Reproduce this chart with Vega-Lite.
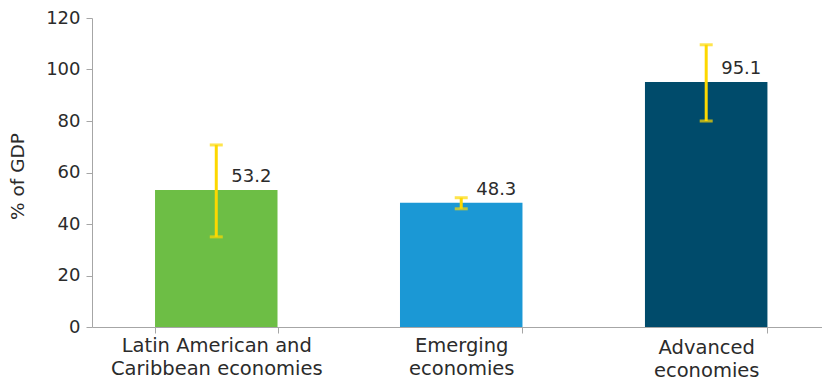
{
  "$schema": "https://vega.github.io/schema/vega-lite/v6.json",
  "width": 730,
  "height": 309,
  "autosize": {"type": "none"},
  "padding": {"left": 92, "top": 18, "right": 0, "bottom": 54},
  "background": "white",
  "config": {
    "view": {"stroke": null},
    "font": "DejaVu Sans",
    "axis": {"domainColor": "#a6a6a6", "tickColor": "#a6a6a6", "labelColor": "#2b2b2b", "titleColor": "#2b2b2b", "labelFont": "DejaVu Sans", "titleFont": "DejaVu Sans", "grid": false}
  },
  "data": {
    "values": [
      {"region": "Latin American and|Caribbean economies", "value": 53.2, "lo": 35.0, "hi": 70.7, "color": "#6dbe45"},
      {"region": "Emerging|economies", "value": 48.3, "lo": 45.9, "hi": 50.2, "color": "#1b98d5"},
      {"region": "Advanced|economies", "value": 95.1, "lo": 80.0, "hi": 109.6, "color": "#004b6b"}
    ]
  },
  "encoding": {
    "x": {
      "field": "region",
      "type": "nominal",
      "sort": null,
      "scale": {"paddingInner": 0.5, "paddingOuter": 0.24, "align": 0.536},
      "axis": {
        "title": null,
        "labelAngle": 0,
        "labelExpr": "split(datum.label, '|')",
        "labelFontSize": 19.5,
        "labelLineHeight": 23,
        "labelPadding": {"condition": {"test": "datum.value == 'Advanced|economies'", "value": 5}, "value": 3},
        "tickBand": "extent",
        "tickSize": 6,
        "labelLimit": 300
      }
    }
  },
  "layer": [
    {
      "mark": {"type": "bar"},
      "encoding": {
        "y": {
          "field": "value",
          "type": "quantitative",
          "scale": {"domain": [0, 120]},
          "axis": {
            "title": "% of GDP",
            "values": [0, 20, 40, 60, 80, 100, 120],
            "labelFontSize": 18,
            "labelPadding": 6,
            "tickSize": 6,
            "titleFontSize": 18.5,
            "titleFontWeight": "normal",
            "titleX": -75,
            "titleY": 158,
            "titleAngle": -90,
            "titleAlign": "center",
            "titleBaseline": "middle"
          }
        },
        "color": {"field": "color", "type": "nominal", "scale": null}
      }
    },
    {
      "mark": {"type": "rule", "color": "#fdd800", "strokeWidth": 3},
      "encoding": {
        "y": {"field": "lo", "type": "quantitative"},
        "y2": {"field": "hi"}
      }
    },
    {
      "mark": {"type": "tick", "color": "#fdd800", "thickness": 3, "size": 13},
      "encoding": {"y": {"field": "lo", "type": "quantitative"}}
    },
    {
      "mark": {"type": "tick", "color": "#fdd800", "thickness": 3, "size": 13},
      "encoding": {"y": {"field": "hi", "type": "quantitative"}}
    },
    {
      "mark": {"type": "text", "align": "left", "baseline": "alphabetic", "dx": 15, "dy": -8, "fontSize": 18, "color": "#2b2b2b"},
      "encoding": {
        "y": {"field": "value", "type": "quantitative"},
        "text": {"field": "value", "type": "quantitative", "format": ".1f"}
      }
    }
  ]
}
